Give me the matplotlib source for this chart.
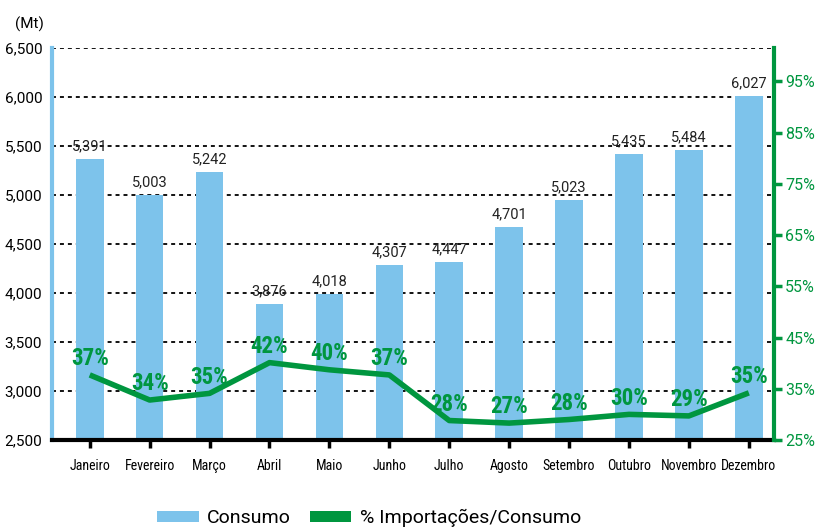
import numpy as np
import matplotlib
matplotlib.use("Agg")
import matplotlib.pyplot as plt
from matplotlib import font_manager
from matplotlib.patches import Patch

# Data
meses = ['Janeiro', 'Fevereiro', 'Março', 'Abril', 'Maio', 'Junho',
         'Julho', 'Agosto', 'Setembro', 'Outubro', 'Novembro', 'Dezembro']
consumo = [5364, 5004, 5235, 3885, 3993, 4283, 4317, 4677, 4953, 5418, 5459, 6010]
consumo_rotulos = ['5,391', '5,003', '5,242', '3,876', '4,018', '4,307',
                   '4,447', '4,701', '5,023', '5,435', '5,484', '6,027']
importacoes = [37.7, 32.8, 34.1, 40.1, 38.7, 37.7, 28.8, 28.3, 29.0, 30.0, 29.7, 34.2]
importacoes_rotulos = ['37%', '34%', '35%', '42%', '40%', '37%',
                       '28%', '27%', '28%', '30%', '29%', '35%']
left_ticks = [2500, 3000, 3500, 4000, 4500, 5000, 5500, 6000, 6500]
right_ticks = [25, 35, 45, 55, 65, 75, 85, 95]

BLUE = '#7dc3eb'
GREEN = '#00963f'


def pick(*names):
    # first installed family from the list
    for n in names:
        try:
            font_manager.findfont(n, fallback_to_default=False)
            return n
        except Exception:
            pass
    return 'DejaVu Sans'


regular = pick('Roboto', 'Liberation Sans', 'DejaVu Sans')
narrow = pick('Roboto Condensed', 'PT Sans Narrow', 'Fira Sans Condensed', 'DejaVu Sans')
plt.rcParams['font.family'] = [regular, 'DejaVu Sans']

fig = plt.figure(figsize=(8.17, 5.29), dpi=100)
ax = fig.add_axes([52 / 817, 1 - 440 / 529, (774 - 52) / 817, (440 - 48) / 529])
ax2 = ax.twinx()

x = np.arange(len(meses))

# Bars
bars = ax.bar(x, consumo, width=0.46, color=BLUE, zorder=2)
for rect, txt in zip(bars, consumo_rotulos):
    ax.annotate(txt, xy=(rect.get_x() + rect.get_width() / 2, rect.get_height()),
                xytext=(0, 4), textcoords='offset points',
                ha='center', va='bottom', fontsize=10.5, color='#222222')

ax.set_ylim(2500, 6500)
ax.set_xlim(-0.63, 11.42)
ax.set_yticks(left_ticks)
ax.set_yticklabels([f'{v:,}' for v in left_ticks], fontsize=11)
ax.set_xticks(x)
ax.set_xticklabels(meses, fontsize=10, family=[narrow, 'DejaVu Sans'])

# dashed grid lines
for v in left_ticks[1:]:
    ax.axhline(v, color='black', linestyle=(0, (2.2, 2.2)), linewidth=1.3, zorder=1)

ax.spines['top'].set_visible(False)
ax.spines['right'].set_visible(False)
ax.spines['left'].set_color(BLUE)
ax.spines['left'].set_linewidth(3)
ax.spines['bottom'].set_linewidth(3)
ax.spines['bottom'].set_zorder(5)
ax.tick_params(axis='y', length=0, pad=7)
ax.tick_params(axis='x', length=6, width=2.5, pad=8, direction='out')

# Line on right axis
ax2.plot(x, importacoes, color=GREEN, linewidth=4, solid_capstyle='butt', zorder=3)
for xi, yi, txt in zip(x, importacoes, importacoes_rotulos):
    ax2.annotate(txt, xy=(xi, yi), xytext=(0, 7), textcoords='offset points',
                 ha='center', va='baseline', fontsize=16.5, fontweight='bold',
                 color=GREEN, family=[narrow, 'DejaVu Sans'])
ax2.set_ylim(25, 101.5)
ax2.set_yticks(right_ticks)
ax2.set_yticklabels([f'{v}%' for v in right_ticks], fontsize=11.5, color=GREEN)
ax2.tick_params(axis='y', length=6, width=2.5, color=GREEN, pad=2, direction='out')
for s in ['top', 'left', 'bottom']:
    ax2.spines[s].set_visible(False)
ax2.spines['right'].set_color(GREEN)
ax2.spines['right'].set_linewidth(3)

fig.text(29 / 817, 1 - 24 / 529, '(Mt)', ha='center', va='center', fontsize=11)

handles = [Patch(facecolor=BLUE, edgecolor='none', label='Consumo'),
           Patch(facecolor=GREEN, edgecolor='none', label='% Importações/Consumo')]
fig.legend(handles=handles, loc='center', bbox_to_anchor=(369 / 817, 1 - 518 / 529),
           ncol=2, frameon=False, fontsize=14, handlelength=2.15, handleheight=0.52,
           columnspacing=0.95, handletextpad=0.42)

fig.savefig('out.png', dpi=100)
